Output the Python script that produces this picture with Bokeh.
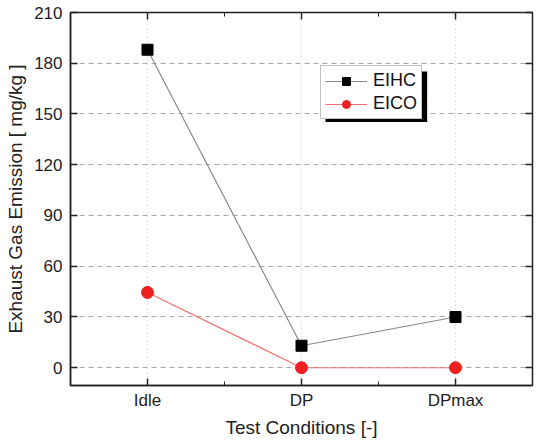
from bokeh.plotting import figure
from bokeh.models import (LinearAxis, FixedTicker, Range1d, Legend, LegendItem,
                          BoxAnnotation, ColumnDataSource)
from bokeh.embed import file_html
from bokeh.resources import INLINE

# Emission indices by test condition
conditions = ["Idle", "DP", "DPmax"]
eihc = [188, 13, 30]
eico = [44.5, 0, 0]
y_ticks = [0, 30, 60, 90, 120, 150, 180, 210]

xpos = list(range(1, len(conditions) + 1))
FONT = "Liberation Sans"

p = figure(width=537, height=440, output_backend="svg", toolbar_location=None,
           x_range=Range1d(0.5, 3.5), y_range=Range1d(-10.5, 210),
           min_border_left=70, min_border_right=5, min_border_top=12,
           min_border_bottom=50, x_axis_label="Test Conditions [-]",
           y_axis_label="Exhaust Gas Emission [ mg/kg ]")
p.background_fill_color = "white"
p.border_fill_color = "white"
p.outline_line_color = "#222222"
p.outline_line_width = 1.5

# Axes: inward ticks, category labels on the bottom
xa, ya = p.xaxis[0], p.yaxis[0]
xa.ticker = FixedTicker(ticks=xpos, minor_ticks=[1.5, 2.5])
xa.major_label_overrides = {i: c for i, c in zip(xpos, conditions)}
ya.ticker = FixedTicker(ticks=y_ticks)
for ax in (xa, ya):
    ax.axis_line_color = "#222222"
    ax.axis_line_width = 1.5
    ax.major_tick_in = 7
    ax.major_tick_out = 0
    ax.major_tick_line_width = 1.5
    ax.major_tick_line_color = "#222222"
    ax.minor_tick_in = 4
    ax.minor_tick_out = 0
    ax.minor_tick_line_color = "#222222"
    ax.major_label_text_font = FONT
    ax.major_label_text_font_size = "17px"
    ax.major_label_text_color = "#222222"
    ax.axis_label_text_font = FONT
    ax.axis_label_text_font_size = "19px"
    ax.axis_label_text_font_style = "normal"
    ax.axis_label_text_color = "#222222"
xa.major_label_standoff = 5
xa.axis_label_standoff = 4
ya.major_label_standoff = 8
ya.axis_label_standoff = 5

# Mirrored tick marks on the top and right edges (no labels)
for side, tick in (("above", FixedTicker(ticks=xpos, minor_ticks=[1.5, 2.5])),
                   ("right", FixedTicker(ticks=y_ticks))):
    ax = LinearAxis(ticker=tick, major_label_text_font_size="1px",
                    major_label_text_color=None,
                    major_label_standoff=0, axis_line_color=None,
                    major_tick_in=7, major_tick_out=0, major_tick_line_width=1.5,
                    major_tick_line_color="#222222", minor_tick_in=4,
                    minor_tick_out=0, minor_tick_line_color="#222222")
    p.add_layout(ax, side)

# Grid
p.xgrid.ticker = FixedTicker(ticks=xpos)
p.xgrid.grid_line_color = "#c8c8c8"
p.xgrid.grid_line_dash = "1 3"
p.ygrid.ticker = FixedTicker(ticks=y_ticks[:-1])
p.ygrid.grid_line_color = "#a8a8a8"
p.ygrid.grid_line_dash = "5 4"

src = ColumnDataSource(dict(x=xpos, eihc=eihc, eico=eico))
hc_line = p.line("x", "eihc", source=src, line_color="#8a8a8a", line_width=1.2)
hc_pts = p.scatter("x", "eihc", source=src, marker="square", size=11,
                   fill_color="black", line_color="black")
co_line = p.line("x", "eico", source=src, line_color="#f07070", line_width=1.2)
co_pts = p.scatter("x", "eico", source=src, marker="circle", size=12,
                   fill_color="#ee2020", line_color="#ee2020")

# Legend with a drop shadow
shadow = BoxAnnotation(left=2.156, right=2.816, top=175.1, bottom=145.2,
                       fill_color="black", fill_alpha=1.0, line_color=None)
p.add_layout(shadow)
legend = Legend(items=[LegendItem(label="EIHC", renderers=[hc_line, hc_pts]),
                       LegendItem(label="EICO", renderers=[co_line, co_pts])],
                location=(250, 266), label_text_font=FONT,
                label_text_font_size="18px", label_text_color="#111111",
                glyph_width=42, glyph_height=20, label_standoff=6,
                padding=4, spacing=2, margin=0, border_line_color="#888888",
                border_line_width=1, background_fill_color="white",
                background_fill_alpha=1.0)
p.add_layout(legend)

open("out.html", "w").write(file_html(p, INLINE))
